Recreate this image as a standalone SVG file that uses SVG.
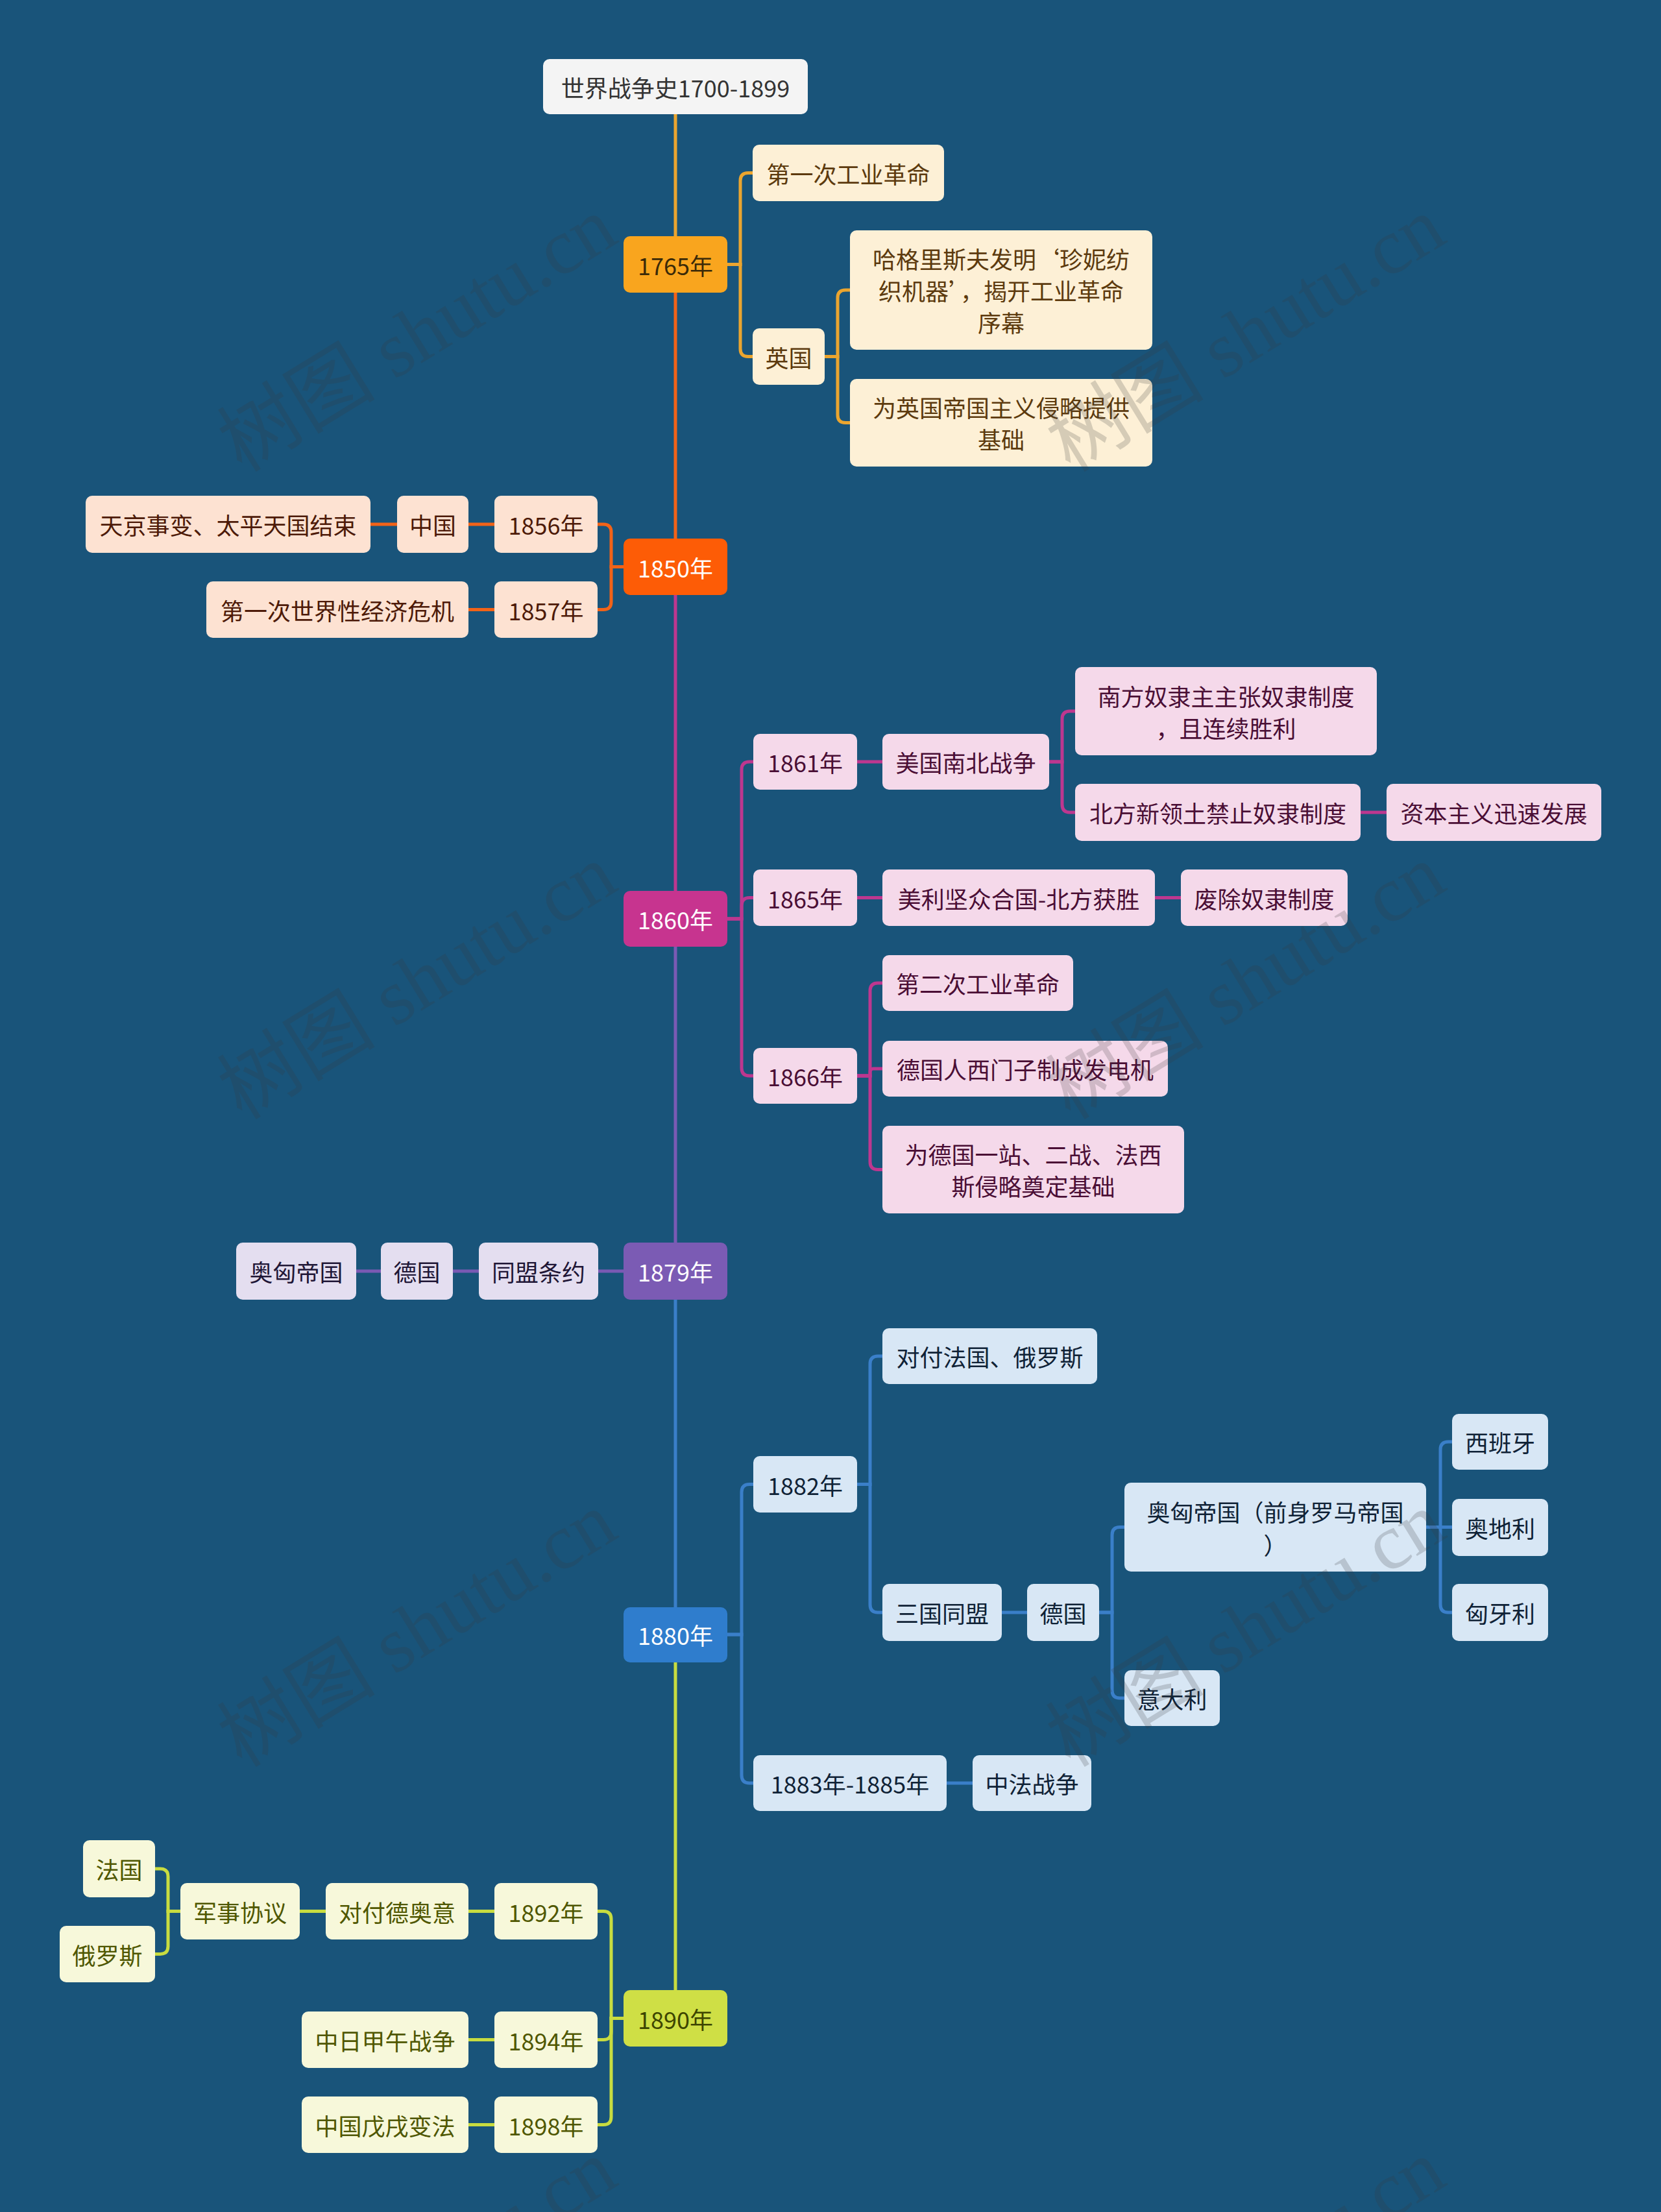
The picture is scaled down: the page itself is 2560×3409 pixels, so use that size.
<svg xmlns="http://www.w3.org/2000/svg" width="2560" height="3409" viewBox="0 0 2560 3409">
<style>
text{font-family:"Noto Sans CJK SC","Microsoft YaHei",sans-serif;font-size:36px;text-anchor:middle;dominant-baseline:central}
.c path,.c line{fill:none;stroke-width:5}
.wm{font-family:"Liberation Serif","Noto Sans CJK SC",serif;font-size:122px;fill:#3a3a3a;opacity:0.2;text-anchor:middle}
.o1 rect{fill:#fdf0d6}.o1 text{fill:#5c3a0e}
.o2 rect{fill:#fde2d2}.o2 text{fill:#4d1a08}
.o3 rect{fill:#f5d9ea}.o3 text{fill:#4a0e35}
.o4 rect{fill:#e4def0}.o4 text{fill:#1f1636}
.o5 rect{fill:#d8e7f5}.o5 text{fill:#0f2236}
.o6 rect{fill:#f7f8da}.o6 text{fill:#4f5700}
.s1{stroke:#eba52f}.s2{stroke:#f26318}.s3{stroke:#bd378f}.s4{stroke:#7a5ab4}.s5{stroke:#3a7fc9}.s6{stroke:#c8dc40}
</style>
<rect width="2560" height="3409" fill="#19547a"/>

<g id="connectors" class="c">
<line class="s1" x1="1041" y1="176" x2="1041" y2="364"/>
<line class="s2" x1="1041" y1="451" x2="1041" y2="830"/>
<line class="s3" x1="1041" y1="917" x2="1041" y2="1373"/>
<line class="s4" x1="1041" y1="1459" x2="1041" y2="1915"/>
<line class="s5" x1="1041" y1="2003" x2="1041" y2="2477"/>
<line class="s6" x1="1041" y1="2561" x2="1041" y2="3067"/>

<g class="s1">
<path d="M1121,407.5 H1141 V278.5 Q1141,266.5 1153,266.5 H1160"/>
<path d="M1121,407.5 H1141 V537.5 Q1141,549.5 1153,549.5 H1160"/>
<path d="M1271,549.5 H1291 V459 Q1291,447 1303,447 H1310"/>
<path d="M1271,549.5 H1291 V639.5 Q1291,651.5 1303,651.5 H1310"/>
</g>
<g class="s2">
<path d="M961,873.5 H942 V820 Q942,808 930,808 H921"/>
<path d="M961,873.5 H942 V927.5 Q942,939.5 930,939.5 H921"/>
<path d="M762,808 H722"/>
<path d="M612,808 H571"/>
<path d="M762,939.5 H722"/>
</g>
<g class="s3">
<path d="M1121,1416 H1143 V1186 Q1143,1174 1155,1174 H1161"/>
<path d="M1121,1416 H1143 V1395.5 Q1143,1383.5 1155,1383.5 H1161"/>
<path d="M1121,1416 H1143 V1646 Q1143,1658 1155,1658 H1161"/>
<path d="M1321,1174 H1360"/>
<path d="M1617,1174 H1637 V1108 Q1637,1096 1649,1096 H1657"/>
<path d="M1617,1174 H1637 V1240 Q1637,1252 1649,1252 H1657"/>
<path d="M2097,1252 H2137"/>
<path d="M1321,1383.5 H1360"/>
<path d="M1780,1383.5 H1820"/>
<path d="M1321,1658 H1341 V1527 Q1341,1515 1353,1515 H1360"/>
<path d="M1321,1658 H1341 V1652 Q1341,1647 1346,1647 H1360"/>
<path d="M1321,1658 H1341 V1790.5 Q1341,1802.5 1353,1802.5 H1360"/>
</g>
<g class="s4">
<path d="M961,1959 H922"/>
<path d="M738,1959 H698"/>
<path d="M587,1959 H549"/>
</g>
<g class="s5">
<path d="M1121,2519 H1143 V2299.5 Q1143,2287.5 1155,2287.5 H1161"/>
<path d="M1121,2519 H1143 V2736 Q1143,2748 1155,2748 H1161"/>
<path d="M1321,2287.5 H1341 V2102 Q1341,2090 1353,2090 H1360"/>
<path d="M1321,2287.5 H1341 V2473 Q1341,2485 1353,2485 H1360"/>
<path d="M1544,2485 H1583"/>
<path d="M1694,2485 H1714 V2365.5 Q1714,2353.5 1726,2353.5 H1733"/>
<path d="M1694,2485 H1714 V2605 Q1714,2617 1726,2617 H1733"/>
<path d="M2198,2353.5 H2220 V2234 Q2220,2222 2232,2222 H2238"/>
<path d="M2198,2353.5 H2238"/>
<path d="M2198,2353.5 H2220 V2473 Q2220,2485 2232,2485 H2238"/>
<path d="M1459,2748 H1499"/>
</g>
<g class="s6">
<path d="M961,3110.5 H942 V2957.5 Q942,2945.5 930,2945.5 H921"/>
<path d="M961,3110.5 H942 V3131.5 Q942,3143.5 930,3143.5 H921"/>
<path d="M961,3110.5 H942 V3262.5 Q942,3274.5 930,3274.5 H921"/>
<path d="M762,2945.5 H722"/>
<path d="M502,2945.5 H462"/>
<path d="M278,2945.5 H259 V2892 Q259,2880 247,2880 H239"/>
<path d="M278,2945.5 H259 V2999.5 Q259,3011.5 247,3011.5 H239"/>
<path d="M762,3143.5 H722"/>
<path d="M762,3274.5 H722"/>
</g>
</g>

<g id="root"><rect x="837" y="91" width="408" height="85" rx="10" fill="#f4f4f4"/><text x="1041" y="133.5" fill="#333333" font-size="37">世界战争史1700-1899</text></g>

<g id="y1765"><rect x="961" y="364" width="160" height="87" rx="10" fill="#f9a51e"/><text x="1041" y="407.5" fill="#3b2a08">1765年</text></g>
<g id="y1850"><rect x="961" y="830" width="160" height="87" rx="10" fill="#fd5c06"/><text x="1041" y="873.5" fill="#ffffff">1850年</text></g>
<g id="y1860"><rect x="961" y="1373" width="160" height="86" rx="10" fill="#c7348f"/><text x="1041" y="1416" fill="#ffffff">1860年</text></g>
<g id="y1879"><rect x="961" y="1915" width="160" height="88" rx="10" fill="#7b5bb4"/><text x="1041" y="1959" fill="#ffffff">1879年</text></g>
<g id="y1880"><rect x="961" y="2477" width="160" height="85" rx="10" fill="#2f7dcd"/><text x="1041" y="2519" fill="#ffffff">1880年</text></g>
<g id="y1890"><rect x="961" y="3067" width="160" height="87" rx="10" fill="#cfdf45"/><text x="1041" y="3110.5" fill="#3d4500">1890年</text></g>

<g class="o1">
<g id="a1"><rect x="1160" y="223" width="295" height="87" rx="10"/><text x="1307.5" y="266.5">第一次工业革命</text></g>
<g id="a2"><rect x="1160" y="506" width="111" height="87" rx="10"/><text x="1215.5" y="549.5">英国</text></g>
<g id="a2a"><rect x="1310" y="355" width="466" height="184" rx="10"/><text x="1543" y="398">哈格里斯夫发明‘珍妮纺<tspan x="1543" dy="49">织机器’，揭开工业革命</tspan><tspan x="1543" dy="49">序幕</tspan></text></g>
<g id="a2b"><rect x="1310" y="584" width="466" height="135" rx="10"/><text x="1543" y="627">为英国帝国主义侵略提供<tspan x="1543" dy="49">基础</tspan></text></g>
</g>

<g class="o2">
<g id="b1"><rect x="762" y="764" width="159" height="88" rx="10"/><text x="841.5" y="808">1856年</text></g>
<g id="b1a"><rect x="612" y="764" width="110" height="88" rx="10"/><text x="667" y="808">中国</text></g>
<g id="b1b"><rect x="132" y="764" width="439" height="88" rx="10"/><text x="351.5" y="808">天京事变、太平天国结束</text></g>
<g id="b2"><rect x="762" y="896" width="159" height="87" rx="10"/><text x="841.5" y="939.5">1857年</text></g>
<g id="b2a"><rect x="318" y="896" width="404" height="87" rx="10"/><text x="520" y="939.5">第一次世界性经济危机</text></g>
</g>

<g class="o3">
<g id="c1"><rect x="1161" y="1131" width="160" height="86" rx="10"/><text x="1241" y="1174">1861年</text></g>
<g id="c1a"><rect x="1360" y="1131" width="257" height="86" rx="10"/><text x="1488.5" y="1174">美国南北战争</text></g>
<g id="c1a1"><rect x="1657" y="1028" width="465" height="136" rx="10"/><text x="1889.5" y="1071.5">南方奴隶主主张奴隶制度<tspan x="1889.5" dy="49">，且连续胜利</tspan></text></g>
<g id="c1a2"><rect x="1657" y="1208" width="440" height="88" rx="10"/><text x="1877" y="1252">北方新领土禁止奴隶制度</text></g>
<g id="c1a2x"><rect x="2137" y="1208" width="331" height="88" rx="10"/><text x="2302.5" y="1252">资本主义迅速发展</text></g>
<g id="c2"><rect x="1161" y="1340" width="160" height="87" rx="10"/><text x="1241" y="1383.5">1865年</text></g>
<g id="c2a"><rect x="1360" y="1340" width="420" height="87" rx="10"/><text x="1570" y="1383.5">美利坚众合国-北方获胜</text></g>
<g id="c2b"><rect x="1820" y="1340" width="257" height="87" rx="10"/><text x="1948.5" y="1383.5">废除奴隶制度</text></g>
<g id="c3"><rect x="1161" y="1615" width="160" height="86" rx="10"/><text x="1241" y="1658">1866年</text></g>
<g id="c3a"><rect x="1360" y="1472" width="294" height="86" rx="10"/><text x="1507" y="1515">第二次工业革命</text></g>
<g id="c3b"><rect x="1360" y="1604" width="440" height="86" rx="10"/><text x="1580" y="1647">德国人西门子制成发电机</text></g>
<g id="c3c"><rect x="1360" y="1735" width="465" height="135" rx="10"/><text x="1592.5" y="1778">为德国一站、二战、法西<tspan x="1592.5" dy="49">斯侵略奠定基础</tspan></text></g>
</g>

<g class="o4">
<g id="d1"><rect x="738" y="1915" width="184" height="88" rx="10"/><text x="830" y="1959">同盟条约</text></g>
<g id="d2"><rect x="587" y="1915" width="111" height="88" rx="10"/><text x="642.5" y="1959">德国</text></g>
<g id="d3"><rect x="364" y="1915" width="185" height="88" rx="10"/><text x="456.5" y="1959">奥匈帝国</text></g>
</g>

<g class="o5">
<g id="e1"><rect x="1161" y="2244" width="160" height="87" rx="10"/><text x="1241" y="2287.5">1882年</text></g>
<g id="e1a"><rect x="1360" y="2047" width="331" height="86" rx="10"/><text x="1525.5" y="2090">对付法国、俄罗斯</text></g>
<g id="e1b"><rect x="1360" y="2441" width="184" height="88" rx="10"/><text x="1452" y="2485">三国同盟</text></g>
<g id="e1b1"><rect x="1583" y="2441" width="111" height="88" rx="10"/><text x="1638.5" y="2485">德国</text></g>
<g id="e1b1a"><rect x="1733" y="2285" width="465" height="137" rx="10"/><text x="1965.5" y="2329">奥匈帝国（前身罗马帝国<tspan x="1965.5" dy="51">）</tspan></text></g>
<g id="e1b1b"><rect x="1733" y="2574" width="147" height="86" rx="10"/><text x="1806.5" y="2617">意大利</text></g>
<g id="e1b1a1"><rect x="2238" y="2179" width="148" height="86" rx="10"/><text x="2312" y="2222">西班牙</text></g>
<g id="e1b1a2"><rect x="2238" y="2310" width="148" height="88" rx="10"/><text x="2312" y="2354">奥地利</text></g>
<g id="e1b1a3"><rect x="2238" y="2441" width="148" height="88" rx="10"/><text x="2312" y="2485">匈牙利</text></g>
<g id="e2"><rect x="1161" y="2705" width="298" height="86" rx="10"/><text x="1310" y="2748">1883年-1885年</text></g>
<g id="e2a"><rect x="1499" y="2705" width="183" height="86" rx="10"/><text x="1590.5" y="2748">中法战争</text></g>
</g>

<g class="o6">
<g id="f1"><rect x="762" y="2902" width="159" height="87" rx="10"/><text x="841.5" y="2945.5">1892年</text></g>
<g id="f1a"><rect x="502" y="2902" width="220" height="87" rx="10"/><text x="612" y="2945.5">对付德奥意</text></g>
<g id="f1b"><rect x="278" y="2902" width="184" height="87" rx="10"/><text x="370" y="2945.5">军事协议</text></g>
<g id="f1b1"><rect x="128" y="2836" width="111" height="88" rx="10"/><text x="183.5" y="2880">法国</text></g>
<g id="f1b2"><rect x="92" y="2968" width="147" height="87" rx="10"/><text x="165.5" y="3011.5">俄罗斯</text></g>
<g id="f2"><rect x="762" y="3100" width="159" height="87" rx="10"/><text x="841.5" y="3143.5">1894年</text></g>
<g id="f2a"><rect x="465" y="3100" width="257" height="87" rx="10"/><text x="593.5" y="3143.5">中日甲午战争</text></g>
<g id="f3"><rect x="762" y="3231" width="159" height="87" rx="10"/><text x="841.5" y="3274.5">1898年</text></g>
<g id="f3a"><rect x="465" y="3231" width="257" height="87" rx="10"/><text x="593.5" y="3274.5">中国戊戌变法</text></g>
</g>

<g id="watermarks">
<text class="wm" transform="translate(643,515) rotate(-31.5)" dominant-baseline="central">树图 shutu.cn</text>
<text class="wm" transform="translate(1920,515) rotate(-31.5)" dominant-baseline="central">树图 shutu.cn</text>
<text class="wm" transform="translate(643,1513) rotate(-31.5)" dominant-baseline="central">树图 shutu.cn</text>
<text class="wm" transform="translate(1920,1513) rotate(-31.5)" dominant-baseline="central">树图 shutu.cn</text>
<text class="wm" transform="translate(643,2511) rotate(-31.5)" dominant-baseline="central">树图 shutu.cn</text>
<text class="wm" transform="translate(1920,2511) rotate(-31.5)" dominant-baseline="central">树图 shutu.cn</text>
<text class="wm" transform="translate(643,3509) rotate(-31.5)" dominant-baseline="central">树图 shutu.cn</text>
<text class="wm" transform="translate(1920,3509) rotate(-31.5)" dominant-baseline="central">树图 shutu.cn</text>
</g>
</svg>
